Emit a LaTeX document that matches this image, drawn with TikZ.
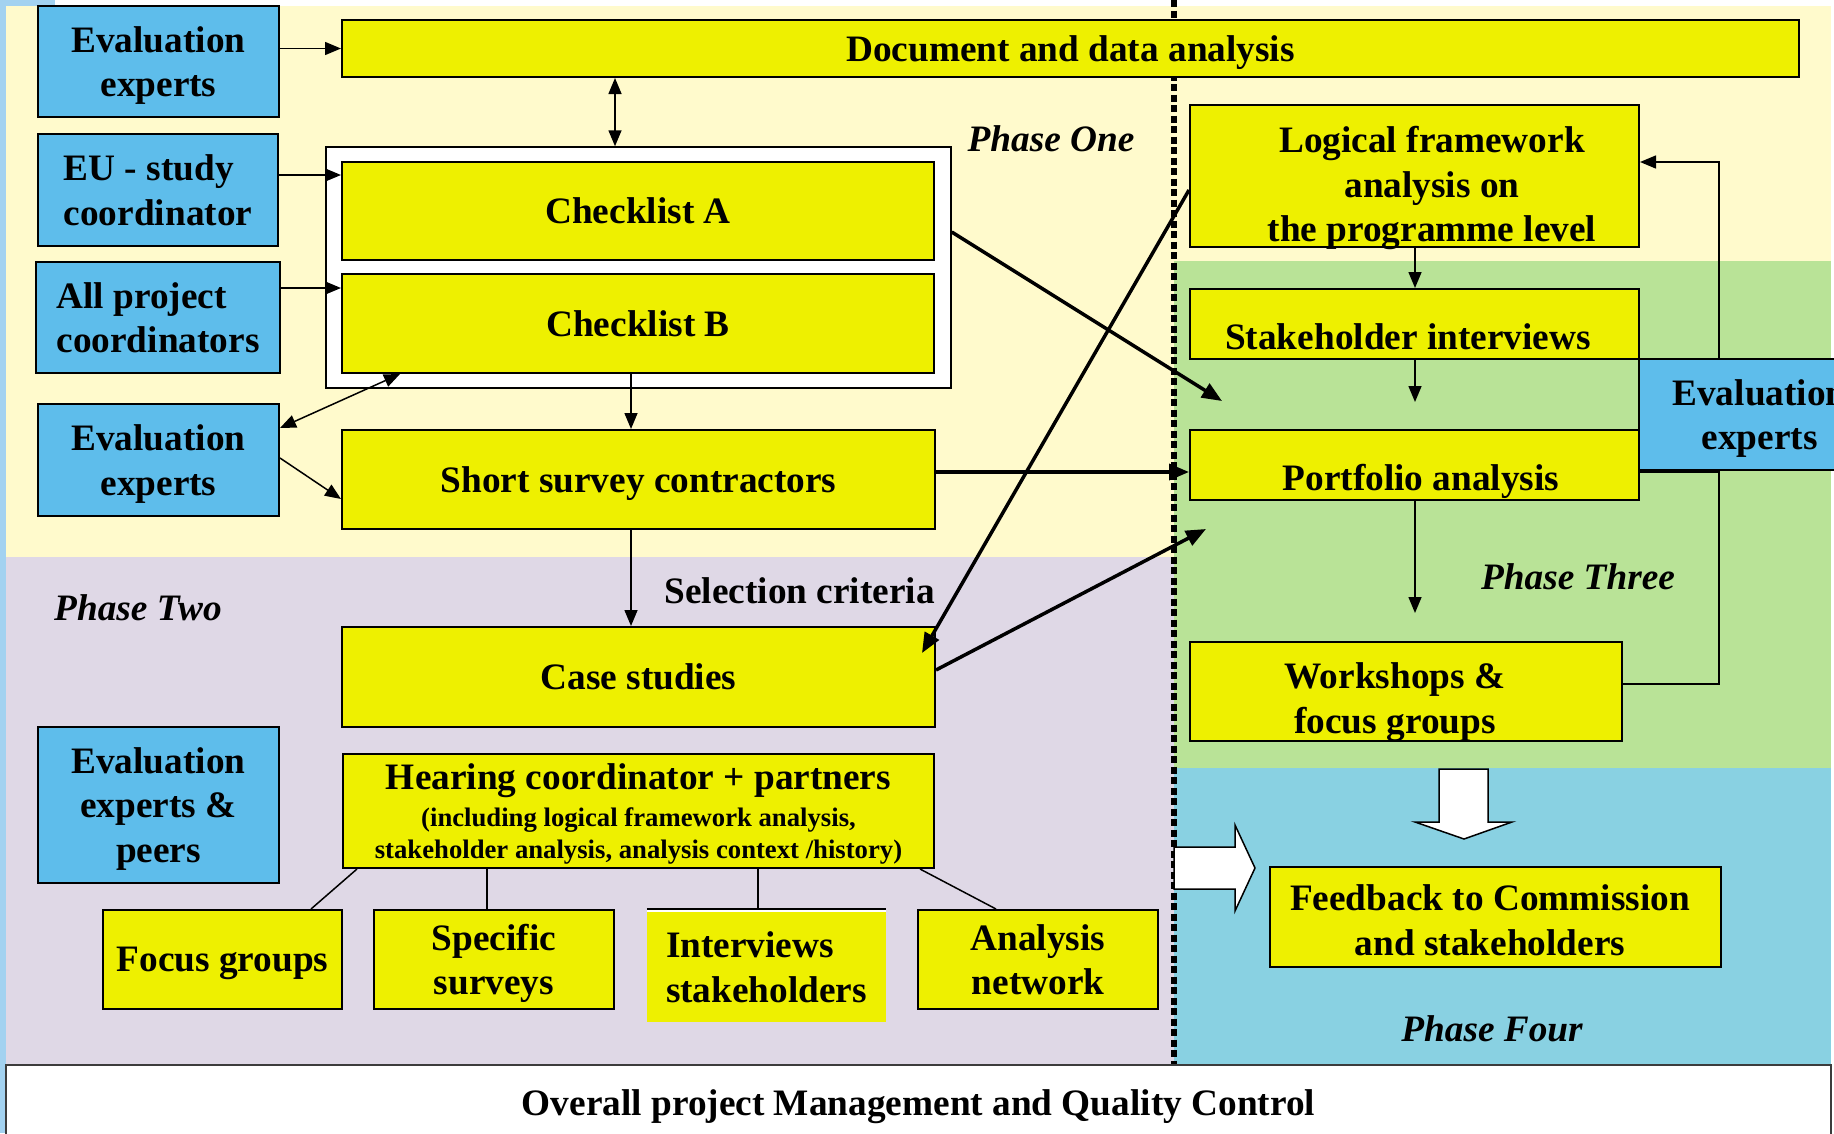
\documentclass[tikz,border=0pt]{standalone}
\usepackage{fontspec}
\setmainfont{Liberation Serif}
\usetikzlibrary{arrows.meta,calc}
\definecolor{bgone}{RGB}{255,250,204}
\definecolor{bgtwo}{RGB}{223,216,230}
\definecolor{bgthree}{RGB}{185,227,151}
\definecolor{bgfour}{RGB}{137,209,226}
\definecolor{stripblue}{RGB}{163,210,240}
\definecolor{boxyellow}{RGB}{238,240,0}
\definecolor{boxblue}{RGB}{94,189,235}
\definecolor{qcgray}{RGB}{60,60,60}
\tikzset{
  base/.style={font=\fontsize{37.3}{44.5}\selectfont\bfseries, align=center, inner sep=0pt, text depth=0pt},
  bluebox/.style={base, draw=black, line width=2pt, fill=boxblue, minimum width=241pt, minimum height=111pt},
  ybox/.style={base, draw=black, line width=2pt, fill=boxyellow},
  txt/.style={base},
  phase/.style={font=\fontsize{37.3}{44.5}\selectfont\bfseries\itshape, inner sep=0pt, text depth=0pt},
  arr/.style={line width=1.5pt, -{Triangle[length=16pt,width=13pt]}},
  dblarr/.style={line width=1.5pt, {Triangle[length=16pt,width=13pt]}-{Triangle[length=16pt,width=13pt]}},
  thickarr/.style={line width=3.5pt, -{Triangle[length=20pt,width=16pt]}},
  link/.style={line width=1.5pt},
  blockarrow/.style={fill=white, draw=black, line width=1.5pt, line join=miter},
}
\begin{document}
\begin{tikzpicture}[x=1pt,y=-1pt]
\useasboundingbox (0,0) rectangle (1834,1133);
\clip (0,0) rectangle (1834,1133);
% backgrounds
\fill[white] (0,0) rectangle (1834,1133);
\fill[stripblue] (0,0) rectangle (6,1133);
\fill[stripblue] (0,0) rectangle (55,6);
\fill[bgone] (6,6) rectangle (1831,557);
\fill[bgtwo] (6,557) rectangle (1174,1065);
\fill[bgthree] (1174,261) rectangle (1831,768);
\fill[bgfour] (1174,768) rectangle (1831,1065);
% dotted divider
\draw[line width=5.5pt, dash pattern=on 7pt off 3.5pt] (1174,0) -- (1174,1065);

% left blue boxes
\node[bluebox] (ee1) at (158.5,61.5) {Evaluation\\experts};
\node[bluebox, minimum width=240pt, minimum height=112pt, align=left] (euc) at (158,190) {EU - study\\coordinator};
\node[bluebox, minimum width=244pt, align=left] (apc) at (158,317.5) {All project\\coordinators};
\node[bluebox, minimum height=112pt] (ee2) at (158.5,460) {Evaluation\\experts};
\node[bluebox, minimum height=156pt] (eep) at (158.5,805) {Evaluation\\experts \&\\peers};

% top document box
\node[ybox, minimum width=1457pt, minimum height=57pt] (doc) at (1070.5,48.5) {Document and data analysis};

% checklist frame
\node[draw=black, line width=1.5pt, fill=white, minimum width=625pt, minimum height=241pt] (frame) at (638.5,267.5) {};
\node[ybox, minimum width=592pt, minimum height=98pt] (chkA) at (638,211) {Checklist A};
\node[ybox, minimum width=592pt, minimum height=99pt] (chkB) at (638,323.5) {Checklist B};

\node[ybox, minimum width=593pt, minimum height=99pt] (ssc) at (638.5,479.5) {Short survey contractors};
\node[ybox, minimum width=593pt, minimum height=100pt] (cs) at (638.5,677) {Case studies};
\node[ybox, minimum width=591pt, minimum height=114pt, font=\fontsize{26.7}{32}\selectfont\bfseries] (hear) at (638.5,811)
  {{\fontsize{37.3}{44.5}\selectfont Hearing coordinator + partners}\\[5pt](including logical framework analysis,\\stakeholder analysis, analysis context /history)};

\node[ybox, minimum width=239pt, minimum height=99pt] (fg) at (222.5,959.5) {Focus groups};
\node[ybox, minimum width=240pt, minimum height=99pt] (ss) at (494,959.5) {Specific\\surveys};
\node[base, fill=boxyellow, minimum width=239pt, minimum height=110pt, align=left] (is) at (766.5,967) {Interviews\\stakeholders};
\fill[white] ([yshift=3pt]is.north west) rectangle (is.north east);
\draw[line width=2pt] ([yshift=3pt]is.north west) -- ([yshift=3pt]is.north east);
\node[ybox, minimum width=240pt, minimum height=99pt] (an) at (1038,959.5) {Analysis\\network};

% right side
\node[ybox, minimum width=449pt, minimum height=142pt] (lf) at (1414.5,176) {};
\node[txt] (lft) at (1432,184) {Logical framework\\analysis on\\the programme level};
\node[ybox, minimum width=449pt, minimum height=70pt] (si) at (1414.5,324) {};
\node[txt] (sit) at (1408,337) {Stakeholder interviews};
\node[ybox, minimum width=449pt, minimum height=70pt] (pa) at (1414.5,465) {};
\node[txt] (pat) at (1421,477) {Portfolio analysis};
\node[ybox, minimum width=432pt, minimum height=99pt] (wfg) at (1406,691.5) {};
\node[txt] (wfgt) at (1395,698) {Workshops \&\\focus groups};
\node[ybox, minimum width=451pt, minimum height=100pt] (fb) at (1495.5,917) {};
\node[txt] (fbt) at (1490,920) {Feedback to Commission\\and stakeholders};

% feedback loop (behind right expert box)
\draw[arr] (wfg.east |- 0,684) -- (1719,684) -- (1719,162) -- (lf.east |- 0,162);
\draw[link] (pa.east |- 0,472) -- (1719,472);
\node[bluebox] (ee3) at (1759.5,414.5) {Evaluation\\experts};

% free arrow ends
\coordinate (c1) at (1222,401);
\coordinate (c2) at (1206,529);
\coordinate (c3) at (1415,402);
\coordinate (c4) at (1415,613);
\coordinate (cstip) at (922,653);

% connectors
\draw[arr] (ee1.east |- doc.west) -- (doc.west);
\draw[arr] (euc.east |- 0,175) -- (chkA.west |- 0,175);
\draw[arr] (apc.east |- 0,288) -- (chkB.west |- 0,288);
\draw[dblarr] (doc.south -| 615,0) -- (frame.north -| 615,0);
\draw[arr] (chkB.south -| 631,0) -- (ssc.north -| 631,0);
\draw[dblarr] (chkB.south -| 400,0) -- (ee2.east |- 0,428);
\draw[arr] (ee2.east |- 0,458) -- (ssc.west |- 0,499);
\draw[arr] (ssc.south -| 631,0) -- (cs.north -| 631,0);
\draw[thickarr] (ssc.east |- 0,472) -- (pa.west |- 0,472);
\draw[thickarr] (frame.east |- 0,232) -- (c1);
\draw[thickarr] (lf.west |- 0,190) -- (cstip);
\draw[thickarr] (cs.east |- 0,670) -- (c2);
\draw[arr] (lf.south -| 1415,0) -- (si.north -| 1415,0);
\draw[arr] (si.south -| 1415,0) -- (c3);
\draw[arr] (pa.south -| 1415,0) -- (c4);

% hearing links
\draw[link] (hear.south -| 357,0) -- (fg.north -| 311,0);
\draw[link] (hear.south -| 487,0) -- (ss.north -| 487,0);
\draw[link] (hear.south -| 758,0) -- ([yshift=3pt]is.north -| 758,0);
\draw[link] (hear.south -| 920,0) -- (an.north -| 996,0);

% block arrows
\draw[blockarrow] (1439,769) -- (1488,769) -- (1488,822) -- (1512,822) -- (1464,839) -- (1415,822) -- (1439,822) -- cycle;
\draw[blockarrow] (1174,847) -- (1235,847) -- (1235,825) -- (1255,868) -- (1235,911) -- (1235,889) -- (1174,889) -- cycle;

% labels
\node[phase] (p1) at (1051,139) {Phase One};
\node[phase] (p2) at (138,608) {Phase Two};
\node[phase] (p3) at (1578,577) {Phase Three};
\node[phase] (p4) at (1492,1029) {Phase Four};
\node[txt, anchor=east] (selc) at (935,591) {Selection criteria};

% bottom management box
\node[txt, draw=qcgray, line width=2pt, fill=white, minimum width=1825pt, minimum height=76pt] (qc) at (918.5,1103) {Overall project Management and Quality Control};
\end{tikzpicture}
\end{document}
